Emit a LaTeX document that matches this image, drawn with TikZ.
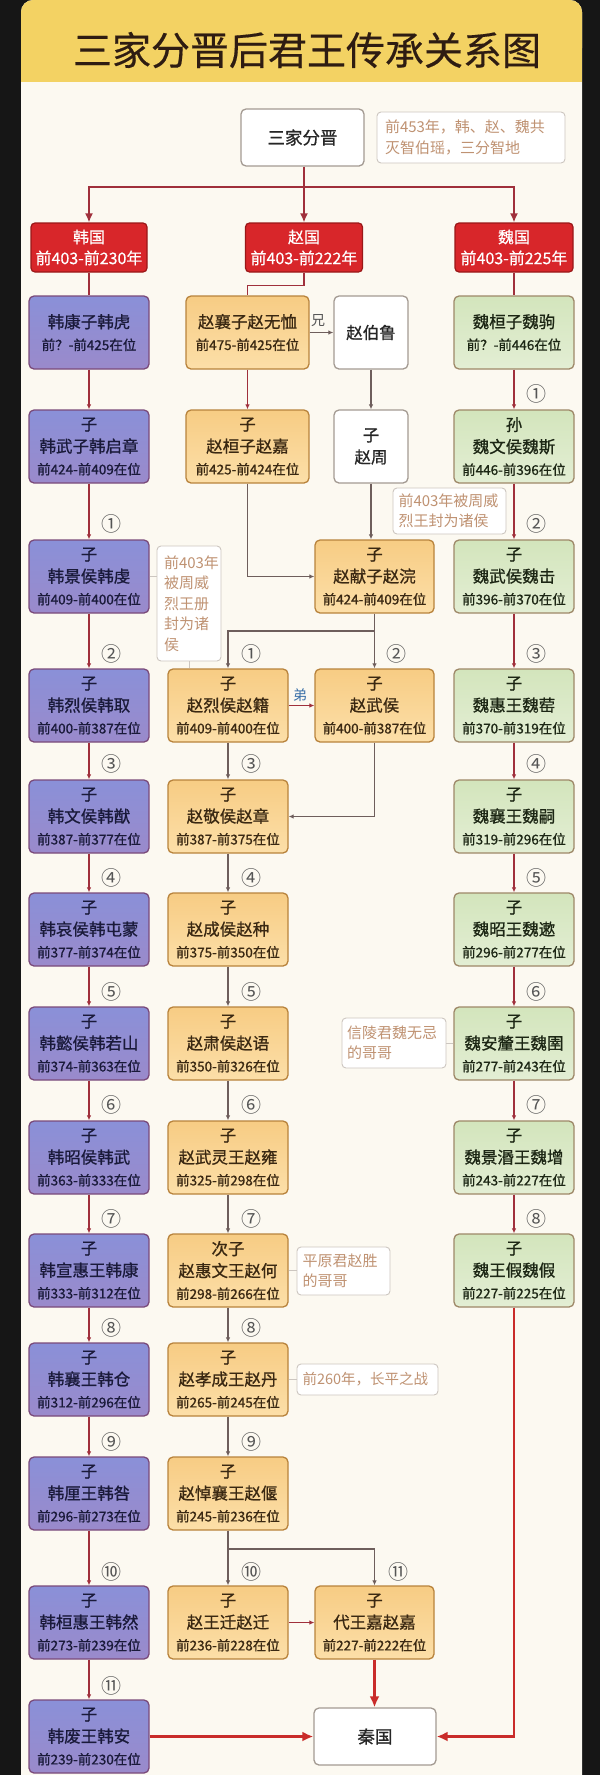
\documentclass[tikz,border=0pt]{standalone}
\usepackage{fontspec}
\setmainfont{Noto Sans CJK SC}
\newfontfamily\heavy{Noto Sans CJK SC}[FakeBold=0.9]
\newfontfamily\semi{Noto Sans CJK SC}[FakeBold=0.4]
\usetikzlibrary{arrows.meta,calc}
\definecolor{bgblack}{HTML}{161616}
\definecolor{cream}{HTML}{FCF9F1}
\definecolor{hdr}{HTML}{F3D263}
\definecolor{titlecol}{HTML}{2E1C12}
\definecolor{hanA}{HTML}{8A90D8}
\definecolor{hanB}{HTML}{9A8ACB}
\definecolor{handraw}{HTML}{7A4A7A}
\definecolor{hantext}{HTML}{1A1A3A}
\definecolor{zhaoA}{HTML}{F7CC84}
\definecolor{zhaoB}{HTML}{FCDFA8}
\definecolor{zhaodraw}{HTML}{B8833C}
\definecolor{zhaotext}{HTML}{3A2812}
\definecolor{weiA}{HTML}{D3E5BC}
\definecolor{weiB}{HTML}{E3EED4}
\definecolor{weidraw}{HTML}{9E8868}
\definecolor{weitext}{HTML}{1C2614}
\definecolor{whitedraw}{HTML}{A39A92}
\definecolor{ctry}{HTML}{D8262A}
\definecolor{ctrydraw}{HTML}{9A1818}
\definecolor{redline}{HTML}{A0303C}
\definecolor{grayline}{HTML}{6E5E5C}
\definecolor{bigred}{HTML}{C92C2A}
\definecolor{notedraw}{HTML}{CCC6C0}
\definecolor{notetext}{HTML}{BF9272}
\definecolor{numcol}{HTML}{555555}
\definecolor{dicol}{HTML}{3A70A8}
\newcommand\yr[1]{{\fontsize{13.5}{16}\selectfont #1}}
\tikzset{
  box/.style={rounded corners=5pt, line width=1.3pt, align=center, inner sep=0pt,
    minimum height=73pt, minimum width=120pt, font=\heavy\fontsize{16.5}{22}\selectfont},
  han/.style={box, draw=handraw, top color=hanA, bottom color=hanB, text=hantext},
  zhao/.style={box, draw=zhaodraw, top color=zhaoA, bottom color=zhaoB, text=zhaotext},
  wei/.style={box, draw=weidraw, top color=weiA, bottom color=weiB, text=weitext},
  wbox/.style={box, draw=whitedraw, fill=white, text=black!85},
  ctrybox/.style={rounded corners=4pt, line width=1.2pt, draw=ctrydraw, fill=ctry, text=white,
    align=center, inner sep=0pt, minimum height=49pt, font=\semi\fontsize{16}{21}\selectfont},
  note/.style={rounded corners=4pt, line width=0.9pt, draw=notedraw, fill=white, text=notetext,
    align=left, inner sep=0pt, font=\fontsize{15}{20.5}\selectfont},
  num/.style={text=numcol, inner sep=0pt, font=\fontsize{20}{20}\selectfont},
  redarr/.style={draw=redline, line width=1.2pt, -{Latex[length=5pt,width=4.5pt]}},
  grayarr/.style={draw=grayline, line width=1.2pt, -{Latex[length=5pt,width=4.5pt]}},
  branch/.style={draw=redline, line width=1.6pt, -{Latex[length=9pt,width=8pt]}},
  plainred/.style={draw=redline, line width=1.6pt},
  bigarr/.style={draw=bigred, line width=2.4pt, -{Latex[length=11pt,width=10pt]}},
  notelink/.style={draw=notedraw, line width=1pt},
}
\begin{document}
\begin{tikzpicture}[x=1pt,y=-1pt]
\useasboundingbox (0,0) rectangle (600,1775);
% frame
\fill[bgblack] (0,0) rectangle (600,1775);
\fill[cream, rounded corners=12pt] (21,0) rectangle (582,1800);
\fill[hdr, rounded corners=12pt] (21,0) rectangle (582,60);
\fill[hdr] (21,40) rectangle (582,82);
\node[text=titlecol, font=\semi\fontsize{39}{40}\selectfont, inner sep=0pt] (title) at (307,50) {三家分晋后君王传承关系图};

% top
\node[wbox, minimum width=123pt, minimum height=57pt, font=\heavy\fontsize{17.5}{22}\selectfont] (sj) at (302.5,137.5) {三家分晋};
\node[note, minimum width=188pt, minimum height=51pt, text width=172pt] (n1) at (471,137.5) {前453年，韩、赵、魏共\\灭智伯瑶，三分智地};

\node[ctrybox, minimum width=116pt] (hg) at (89,247.5) {韩国\\前403-前230年};
\node[ctrybox, minimum width=117pt] (zg) at (304,247.5) {赵国\\前403-前222年};
\node[ctrybox, minimum width=118pt] (wg) at (514,247.5) {魏国\\前403-前225年};

\coordinate (brn) at (304,187);
\draw[branch] (zg.north |- sj.south) -- (zg.north);
\draw[branch] (brn) -| (hg.north);
\draw[branch] (brn) -| (wg.north);

% Han column
\node[han] (h1) at (89,332.5) {韩康子韩虎\\\yr{前？-前425在位}};
\node[han] (h2) at (89,446.5) {子\\韩武子韩启章\\\yr{前424-前409在位}};
\node[han] (h3) at (89,576.5) {子\\韩景侯韩虔\\\yr{前409-前400在位}};
\node[han] (h4) at (89,705.5) {子\\韩烈侯韩取\\\yr{前400-前387在位}};
\node[han] (h5) at (89,816.5) {子\\韩文侯韩猷\\\yr{前387-前377在位}};
\node[han] (h6) at (89,929.5) {子\\韩哀侯韩屯蒙\\\yr{前377-前374在位}};
\node[han] (h7) at (89,1043.5) {子\\韩懿侯韩若山\\\yr{前374-前363在位}};
\node[han] (h8) at (89,1157.5) {子\\韩昭侯韩武\\\yr{前363-前333在位}};
\node[han] (h9) at (89,1270.5) {子\\韩宣惠王韩康\\\yr{前333-前312在位}};
\node[han] (h10) at (89,1379.5) {子\\韩襄王韩仓\\\yr{前312-前296在位}};
\node[han] (h11) at (89,1493.5) {子\\韩厘王韩咎\\\yr{前296-前273在位}};
\node[han] (h12) at (89,1622.5) {子\\韩桓惠王韩然\\\yr{前273-前239在位}};
\node[han] (h13) at (89,1736.5) {子\\韩废王韩安\\\yr{前239-前230在位}};

% Zhao column
\node[zhao, minimum width=123pt] (z1) at (247.5,332.5) {赵襄子赵无恤\\\yr{前475-前425在位}};
\node[wbox, minimum width=74pt] (zb) at (371,332.5) {赵伯鲁};
\node[zhao, minimum width=123pt] (z2) at (247.5,446.5) {子\\赵桓子赵嘉\\\yr{前425-前424在位}};
\node[wbox, minimum width=74pt] (zz) at (371,446.5) {子\\赵周};
\node[zhao, minimum width=119pt] (z3) at (374.5,576.5) {子\\赵献子赵浣\\\yr{前424-前409在位}};
\node[zhao] (z4) at (228,705.5) {子\\赵烈侯赵籍\\\yr{前409-前400在位}};
\node[zhao, minimum width=119pt] (z5) at (374.5,705.5) {子\\赵武侯\\\yr{前400-前387在位}};
\node[zhao] (z6) at (228,816.5) {子\\赵敬侯赵章\\\yr{前387-前375在位}};
\node[zhao] (z7) at (228,929.5) {子\\赵成侯赵种\\\yr{前375-前350在位}};
\node[zhao] (z8) at (228,1043.5) {子\\赵肃侯赵语\\\yr{前350-前326在位}};
\node[zhao] (z9) at (228,1157.5) {子\\赵武灵王赵雍\\\yr{前325-前298在位}};
\node[zhao] (z10) at (228,1270.5) {次子\\赵惠文王赵何\\\yr{前298-前266在位}};
\node[zhao] (z11) at (228,1379.5) {子\\赵孝成王赵丹\\\yr{前265-前245在位}};
\node[zhao] (z12) at (228,1493.5) {子\\赵悼襄王赵偃\\\yr{前245-前236在位}};
\node[zhao] (z13) at (228,1622.5) {子\\赵王迁赵迁\\\yr{前236-前228在位}};
\node[zhao, minimum width=119pt] (z14) at (374.5,1622.5) {子\\代王嘉赵嘉\\\yr{前227-前222在位}};

% Wei column
\node[wei] (w1) at (514,332.5) {魏桓子魏驹\\\yr{前？-前446在位}};
\node[wei] (w2) at (514,446.5) {孙\\魏文侯魏斯\\\yr{前446-前396在位}};
\node[wei] (w3) at (514,576.5) {子\\魏武侯魏击\\\yr{前396-前370在位}};
\node[wei] (w4) at (514,705.5) {子\\魏惠王魏䓨\\\yr{前370-前319在位}};
\node[wei] (w5) at (514,816.5) {子\\魏襄王魏嗣\\\yr{前319-前296在位}};
\node[wei] (w6) at (514,929.5) {子\\魏昭王魏遬\\\yr{前296-前277在位}};
\node[wei] (w7) at (514,1043.5) {子\\魏安釐王魏圉\\\yr{前277-前243在位}};
\node[wei] (w8) at (514,1157.5) {子\\魏景湣王魏增\\\yr{前243-前227在位}};
\node[wei] (w9) at (514,1270.5) {子\\魏王假魏假\\\yr{前227-前225在位}};

% Qin
\node[wbox, minimum width=122pt, minimum height=57pt, font=\heavy\fontsize{17.5}{22}\selectfont] (qin) at (375,1736.5) {秦国};

% notes
\node[note, minimum width=64pt, minimum height=115pt, text width=50pt, font=\fontsize{15}{20.5}\selectfont] (n2) at (189,603.5) {前403年\\被周威\\烈王册\\封为诸\\侯};
\node[note, minimum width=113pt, minimum height=46pt, text width=102pt] (n3) at (449.5,511) {前403年被周威\\烈王封为诸侯};
\node[note, minimum width=104pt, minimum height=50pt, text width=94pt] (n4) at (394,1043) {信陵君魏无忌\\的哥哥};
\node[note, minimum width=93pt, minimum height=48pt, text width=82pt] (n5) at (343.5,1271) {平原君赵胜\\的哥哥};
\node[note, minimum width=141pt, minimum height=31pt, text width=130pt, font=\fontsize{14.5}{18}\selectfont] (n6) at (367.5,1379.5) {前260年，长平之战};

% country to first rulers
\draw[plainred] (hg) -- (h1);
\draw[plainred] (wg) -- (w1);
\draw[plainred] (zg.south) -- ++(0,13) -| (z1.north);

% Han arrows
\foreach \a/\b in {h1/h2,h2/h3,h3/h4,h4/h5,h5/h6,h6/h7,h7/h8,h8/h9,h9/h10,h10/h11,h11/h12,h12/h13}
  \draw[redarr] (\a) -- (\b);
% Wei arrows
\foreach \a/\b in {w1/w2,w2/w3,w3/w4,w4/w5,w5/w6,w6/w7,w7/w8,w8/w9}
  \draw[redarr] (\a) -- (\b);
% Zhao arrows
\draw[grayarr] (z1) -- (zb);
\node[text=numcol, font=\fontsize{14}{14}\selectfont, inner sep=0pt] (xiong) at (318,321) {兄};
\draw[redarr] (z1) -- (z2);
\draw[grayarr] (zb) -- (zz);
\draw[grayarr] (z2) |- (z3);
\draw[grayarr] (zz.south) -- (zz.south |- z3.north);
\coordinate (zs1) at (374.5,631);
\draw[grayarr] (z3.south) -- (zs1) -| (z4.north);
\draw[grayarr] (zs1) -- (z5.north);
\draw[redarr] (z4) -- (z5);
\node[text=dicol, font=\fontsize{14}{14}\selectfont, inner sep=0pt] (di) at (300,695) {弟};
\draw[grayarr] (z5) |- (z6);
\foreach \a/\b in {z4/z6,z6/z7,z7/z8,z8/z9,z9/z10,z10/z11,z11/z12,z12/z13}
  \draw[grayarr] (\a) -- (\b);
\coordinate (zs2) at (228,1549);
\draw[grayarr] (z12.south) -- (zs2) -| (z14.north);
\draw[redarr] (z13) -- (z14);

% to Qin
\draw[bigarr] (z14.south) -- (z14.south |- qin.north);
\draw[bigarr] (h13) -- (qin);
\draw[bigarr] (w9) |- (qin);

% note links
\draw[notelink] (h3.east) -- (h3.east -| n2.west);
\draw[notelink] (n2.south) -- (n2.south |- z4.north);
\draw[notelink] (w7.west) -- (w7.west -| n4.east);
\draw[notelink] (z10.east) -- (z10.east -| n5.west);
\draw[notelink] (z11.east) -- (z11.east -| n6.west);

% circled numbers
\node[num] (hc1) at (111,524) {①};
\node[num] (hc2) at (111,654) {②};
\node[num] (hc3) at (111,764) {③};
\node[num] (hc4) at (111,878) {④};
\node[num] (hc5) at (111,992) {⑤};
\node[num] (hc6) at (111,1105) {⑥};
\node[num] (hc7) at (111,1219) {⑦};
\node[num] (hc8) at (111,1328) {⑧};
\node[num] (hc9) at (111,1442) {⑨};
\node[num] (hc10) at (111,1572) {⑩};
\node[num] (hc11) at (111,1686) {⑪};
\node[num] (zc1) at (251,654) {①};
\node[num] (zc2) at (396,654) {②};
\node[num] (zc3) at (251,764) {③};
\node[num] (zc4) at (251,878) {④};
\node[num] (zc5) at (251,992) {⑤};
\node[num] (zc6) at (251,1105) {⑥};
\node[num] (zc7) at (251,1219) {⑦};
\node[num] (zc8) at (251,1328) {⑧};
\node[num] (zc9) at (251,1442) {⑨};
\node[num] (zc10) at (251,1572) {⑩};
\node[num] (zc11) at (398,1572) {⑪};
\node[num] (wc1) at (536,394) {①};
\node[num] (wc2) at (536,524) {②};
\node[num] (wc3) at (536,654) {③};
\node[num] (wc4) at (536,764) {④};
\node[num] (wc5) at (536,878) {⑤};
\node[num] (wc6) at (536,992) {⑥};
\node[num] (wc7) at (536,1105) {⑦};
\node[num] (wc8) at (536,1219) {⑧};
\end{tikzpicture}
\end{document}
